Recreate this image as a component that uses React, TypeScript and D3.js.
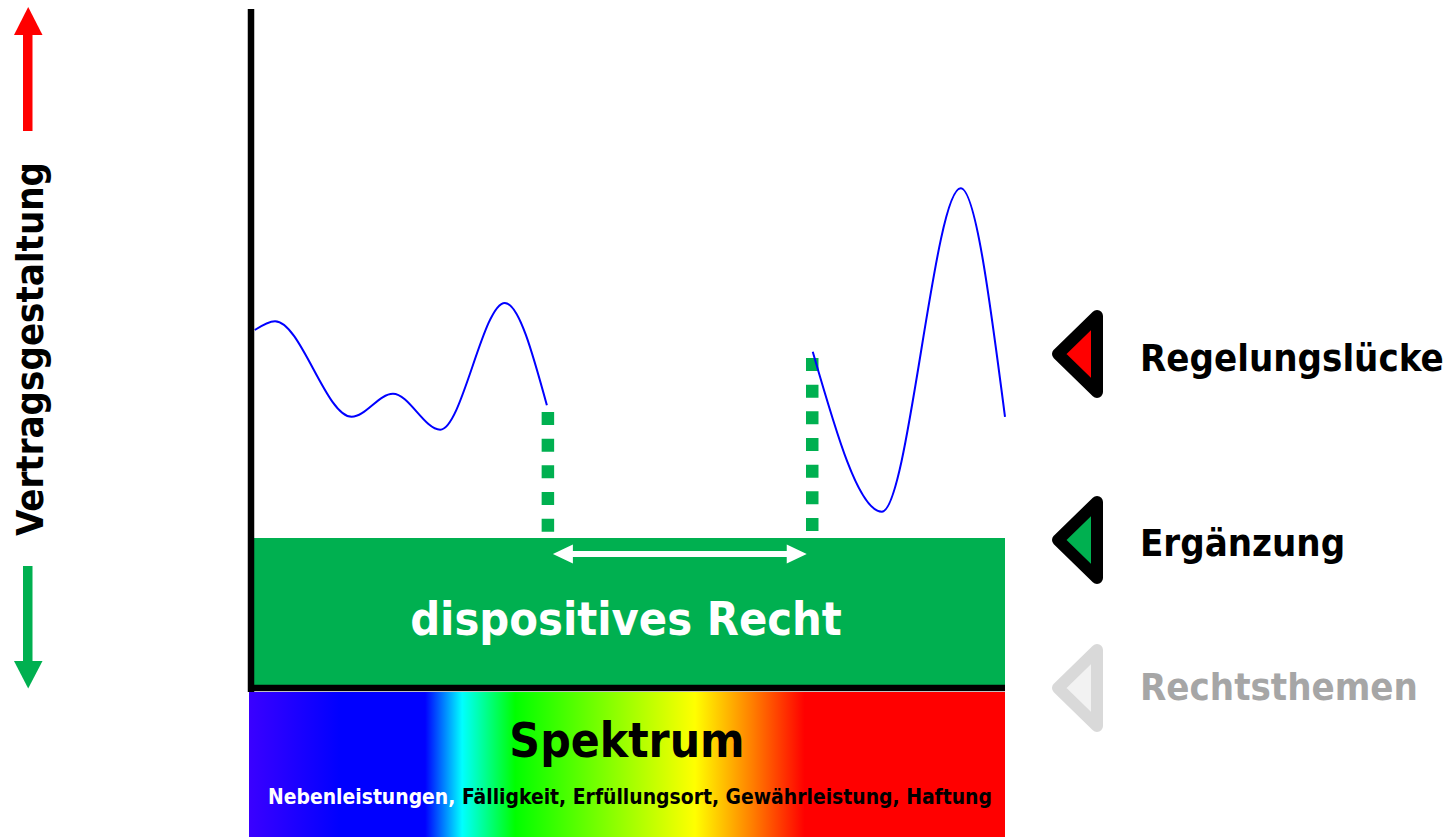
import React from "react";
import * as d3 from "d3";

// ---- data ----
const segmentAX = [0.1, 2.8, 13.0, 18.5, 24.8, 33.4, 39.0];
const segmentAY = [52.8, 54.1, 40.0, 43.4, 38.1, 56.8, 41.7];
const segmentBX = [74.4, 83.6, 94.1, 100];
const segmentBY = [49.6, 26.0, 73.7, 40.0];
const legendLabels = ["Regelungslücke", "Ergänzung", "Rechtsthemen"];
const spectrumTopics = ["Nebenleistungen", "Fälligkeit", "Erfüllungsort", "Gewährleistung", "Haftung"];
const axisTitle = "Vertragsgestaltung";
const bandLabel = "dispositives Recht";
const spectrumLabel = "Spektrum";
const spectrumStops = [
  { o: 0, c: "#3a00ff" },
  { o: 0.12, c: "#0000ff" },
  { o: 0.233, c: "#0000ff" },
  { o: 0.282, c: "#00ffff" },
  { o: 0.352, c: "#00ff00" },
  { o: 0.59, c: "#ffff00" },
  { o: 0.665, c: "#ff8000" },
  { o: 0.735, c: "#ff0000" },
  { o: 1, c: "#ff0000" },
];

const W = 1454;
const H = 837;
const FONT = "'DejaVu Sans Condensed', 'DejaVu Sans', sans-serif";
const GREEN = "#00b050";

const legendStyle = [
  { fill: "#ff0000", stroke: "#000000", text: "#000000" },
  { fill: GREEN, stroke: "#000000", text: "#000000" },
  { fill: "#f2f2f2", stroke: "#d9d9d9", text: "#a6a6a6" },
];

export default function App() {
  const x = d3.scaleLinear().domain([0, 100]).range([254, 1005]);
  const y = d3.scaleLinear().domain([0, 100]).range([688, 10]);

  const line = d3
    .line<[number, number]>()
    .x((d) => x(d[0]))
    .y((d) => y(d[1]))
    .curve(d3.curveMonotoneX);

  const segA: [number, number][] = segmentAX.map((v, i) => [v, segmentAY[i]]);
  const segB: [number, number][] = segmentBX.map((v, i) => [v, segmentBY[i]]);

  const bandTop = 538;
  const axisY = 688;
  const dotBottom = 531.7;
  const leftDotX = x(segmentAX[segmentAX.length - 1]) + 1;
  const rightDotX = x(segmentBX[0]) - 0.5;
  const leftDotTop = y(segmentAY[segmentAY.length - 1]) + 6.7;
  const rightDotTop = y(segmentBY[0]) + 6.3;

  const arrowY = 554;
  const aL = leftDotX + 5;
  const aR = rightDotX - 5.5;
  const headL = 20;
  const headH = 9.5;
  const shaftH = 3;
  const dblArrow = [
    [aL, arrowY],
    [aL + headL, arrowY - headH],
    [aL + headL, arrowY - shaftH],
    [aR - headL, arrowY - shaftH],
    [aR - headL, arrowY - headH],
    [aR, arrowY],
    [aR - headL, arrowY + headH],
    [aR - headL, arrowY + shaftH],
    [aL + headL, arrowY + shaftH],
    [aL + headL, arrowY + headH],
  ]
    .map((p) => p.join(","))
    .join(" ");

  const legendCenters = [354, 540, 688];
  const legendBaselines = [371, 556, 700];

  return (
    <svg
      width={W}
      height={H}
      style={{ position: "absolute", left: 0, top: 0, background: "#fff" }}
    >
      <defs>
        <linearGradient id="spec" x1="0" x2="1" y1="0" y2="0">
          {spectrumStops.map((s, i) => (
            <stop key={i} offset={s.o} stopColor={s.c} />
          ))}
        </linearGradient>
      </defs>

      {/* left arrows */}
      <rect x={23} y={34} width={9.5} height={97} fill="#ff0000" />
      <polygon points="14,35 42.5,35 28.2,7" fill="#ff0000" />
      <rect x={23} y={566} width={9.5} height={96} fill={GREEN} />
      <polygon points="14,661 42.5,661 28.2,688.5" fill={GREEN} />
      <text
        transform="translate(43,349) rotate(-90)"
        textAnchor="middle"
        fontFamily={FONT}
        fontStretch="condensed"
        fontWeight="bold"
        fontSize={38}
        fill="#000"
      >
        {axisTitle}
      </text>

      {/* spectrum */}
      <rect x={249} y={692} width={756} height={H - 692} fill="url(#spec)" />
      <text
        x={627}
        y={757}
        textAnchor="middle"
        fontFamily={FONT}
        fontStretch="condensed"
        fontWeight="bold"
        fontSize={47.5}
        fill="#000"
      >
        {spectrumLabel}
      </text>
      <text
        x={268}
        y={804}
        fontFamily={FONT}
        fontStretch="condensed"
        fontWeight="bold"
        fontSize={20.9}
        fill="#000"
      >
        {spectrumTopics.map((t, i) => (
          <tspan key={i} fill={i === 0 ? "#ffffff" : "#000000"}>
            {t + (i < spectrumTopics.length - 1 ? ", " : "")}
          </tspan>
        ))}
      </text>

      {/* band */}
      <rect x={254} y={bandTop} width={751} height={axisY - 3 - bandTop} fill={GREEN} />
      <text
        x={626}
        y={635}
        textAnchor="middle"
        fontFamily={FONT}
        fontStretch="condensed"
        fontWeight="bold"
        fontSize={46.5}
        fill="#ffffff"
      >
        {bandLabel}
      </text>
      <polygon points={dblArrow} fill="#ffffff" />

      {/* dotted verticals */}
      <line
        x1={leftDotX}
        x2={leftDotX}
        y1={leftDotTop}
        y2={dotBottom}
        stroke={GREEN}
        strokeWidth={12.5}
        strokeDasharray="13 13.67"
      />
      <line
        x1={rightDotX}
        x2={rightDotX}
        y1={rightDotTop}
        y2={dotBottom}
        stroke={GREEN}
        strokeWidth={12.5}
        strokeDasharray="13 13.67"
      />

      {/* curves */}
      <path d={line(segA) || ""} fill="none" stroke="#0000ff" strokeWidth={2} />
      <path d={line(segB) || ""} fill="none" stroke="#0000ff" strokeWidth={2} />

      {/* axes */}
      <line x1={251} x2={251} y1={9} y2={692} stroke="#000" strokeWidth={6.5} />
      <line x1={248} x2={1005} y1={688} y2={688} stroke="#000" strokeWidth={6.5} />

      {/* legend */}
      {legendLabels.map((lab, i) => {
        const cy = legendCenters[i];
        const pts = `1097,${cy - 38} 1097,${cy + 38} 1058,${cy}`;
        return (
          <g key={lab}>
            <polygon
              points={pts}
              fill={legendStyle[i].fill}
              stroke={legendStyle[i].stroke}
              strokeWidth={12}
              strokeLinejoin="round"
            />
            <text
              x={1140}
              y={legendBaselines[i]}
              fontFamily={FONT}
              fontStretch="condensed"
              fontWeight="bold"
              fontSize={38}
              fill={legendStyle[i].text}
            >
              {lab}
            </text>
          </g>
        );
      })}
    </svg>
  );
}
